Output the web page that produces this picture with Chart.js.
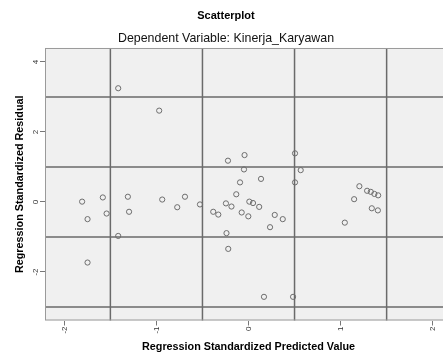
<!DOCTYPE html>
<html>
<head>
<meta charset="utf-8">
<script src="https://cdn.jsdelivr.net/npm/chart.js@4/dist/chart.umd.min.js"></script>
<style>
    html, body { margin: 0; padding: 0; background: #fff; overflow: hidden; }
    #wrap { width: 462px; height: 354px; }
</style>
</head>
<body>
<div id="wrap"><canvas id="chart-scatter" width="462" height="354"></canvas></div>
<script>
// Valores
const predicted = [-1.415, -0.970, -0.223, -0.043, -0.049, -0.092, 0.136, 0.505, 0.567, 0.505,
    -0.133, -1.582, -1.807, -1.310, -0.937, -0.690, -0.774, -0.527, -1.748, -1.541,
    -1.297, -1.415, -1.748, -0.245, -0.185, 0.009, 0.049, 0.116, -0.383, -0.328,
    -0.074, -0.002, 0.285, 0.372, 0.234, -0.239, -0.220, 0.168, 0.484, 1.204,
    1.288, 1.328, 1.367, 1.408, 1.147, 1.339, 1.405, 1.046];
const residual = [3.25, 2.61, 1.18, 1.34, 0.93, 0.56, 0.66, 1.39, 0.91, 0.56,
    0.22, 0.13, 0.01, 0.15, 0.07, 0.15, -0.15, -0.07, -0.49, -0.33,
    -0.28, -0.97, -1.73, -0.04, -0.13, 0.01, -0.03, -0.14, -0.28, -0.36,
    -0.30, -0.41, -0.37, -0.49, -0.72, -0.89, -1.34, -2.71, -2.71, 0.45,
    0.32, 0.29, 0.23, 0.19, 0.08, -0.18, -0.24, -0.59];

const xTicks = [-2, -1, 0, 1, 2];
const yTicks = [-2, 0, 2, 4];
const xGrid = [-1.5, -0.5, 0.5, 1.5];
const yGrid = [-3, -1, 1, 3];

const FONT = '"Liberation Sans", Arial, sans-serif';

// fundo cinza + linhas de referência + moldura
const plotFrame = {
    id: 'plotFrame',
    beforeDatasetsDraw: (chart) => {
        const { ctx, chartArea: a, scales } = chart;
        ctx.save();
        ctx.fillStyle = '#f0f0f0';
        ctx.fillRect(a.left, a.top, a.right - a.left, a.bottom - a.top);

        ctx.strokeStyle = '#6a6a6a';
        ctx.lineWidth = 1.5;
        ctx.beginPath();
        xGrid.forEach(v => {
            const px = scales.x.getPixelForValue(v);
            ctx.moveTo(px, a.top);
            ctx.lineTo(px, a.bottom);
        });
        yGrid.forEach(v => {
            const py = scales.y.getPixelForValue(v);
            ctx.moveTo(a.left, py);
            ctx.lineTo(a.right, py);
        });
        ctx.stroke();

        ctx.strokeStyle = '#9a9a9a';
        ctx.lineWidth = 1;
        ctx.strokeRect(a.left + 0.5, a.top + 0.5, a.right - a.left - 1, a.bottom - a.top - 1);
        ctx.restore();
    }
};

new Chart(document.getElementById('chart-scatter'), {
    type: 'scatter',
    data: {
        datasets: [{
            data: predicted.map((x, i) => ({ x, y: residual[i] })),
            pointStyle: 'circle',
            pointRadius: 2.6,
            pointBorderWidth: 1,
            borderColor: '#6e6e6e',
            backgroundColor: 'rgba(0,0,0,0)'
        }]
    },
    options: {
        responsive: false,
        animation: false,
        devicePixelRatio: 1,
        layout: { padding: { left: 0, right: 10, top: 0, bottom: 0 } },
        plugins: {
            legend: { display: false },
            tooltip: { enabled: false },
            title: {
                display: true,
                text: 'Scatterplot',
                color: '#000',
                font: { family: FONT, size: 11, weight: 'bold', lineHeight: 1.2 },
                padding: { top: 9.4, bottom: 8.9 }
            },
            subtitle: {
                display: true,
                text: 'Dependent Variable: Kinerja_Karyawan',
                color: '#111',
                font: { family: FONT, size: 12.4, weight: 'normal', lineHeight: 1.2 },
                padding: { top: 0, bottom: 1.6 }
            }
        },
        scales: {
            x: {
                type: 'linear',
                min: -2.21,
                max: 2.21,
                afterBuildTicks: (s) => { s.ticks = xTicks.map(v => ({ value: v })); },
                afterFit: (s) => { s.height = 33.5; },
                ticks: {
                    minRotation: 90, maxRotation: 90,
                    color: '#333', padding: 1,
                    font: { family: FONT, size: 8 }
                },
                grid: { drawOnChartArea: false, drawTicks: true, tickLength: 5, tickColor: '#777' },
                border: { display: false },
                title: {
                    display: true,
                    text: 'Regression Standardized Predicted Value',
                    color: '#000',
                    font: { family: FONT, size: 10.8, weight: 'bold', lineHeight: 1.2 },
                    padding: { top: 0, bottom: 0 }
                }
            },
            y: {
                type: 'linear',
                min: -3.386,
                max: 4.4,
                afterBuildTicks: (s) => { s.ticks = yTicks.map(v => ({ value: v })); },
                afterFit: (s) => { s.width = 45; },
                ticks: {
                    minRotation: 90, maxRotation: 90,
                    crossAlign: 'center',
                    color: '#333', padding: 1,
                    font: { family: FONT, size: 8 }
                },
                grid: { drawOnChartArea: false, drawTicks: true, tickLength: 5, tickColor: '#777' },
                border: { display: false },
                title: {
                    display: true,
                    text: 'Regression Standardized Residual',
                    color: '#000',
                    font: { family: FONT, size: 10.8, weight: 'bold', lineHeight: 1.2 },
                    padding: { top: 13.5, bottom: 0 }
                }
            }
        }
    },
    plugins: [plotFrame]
});
</script>
</body>
</html>
